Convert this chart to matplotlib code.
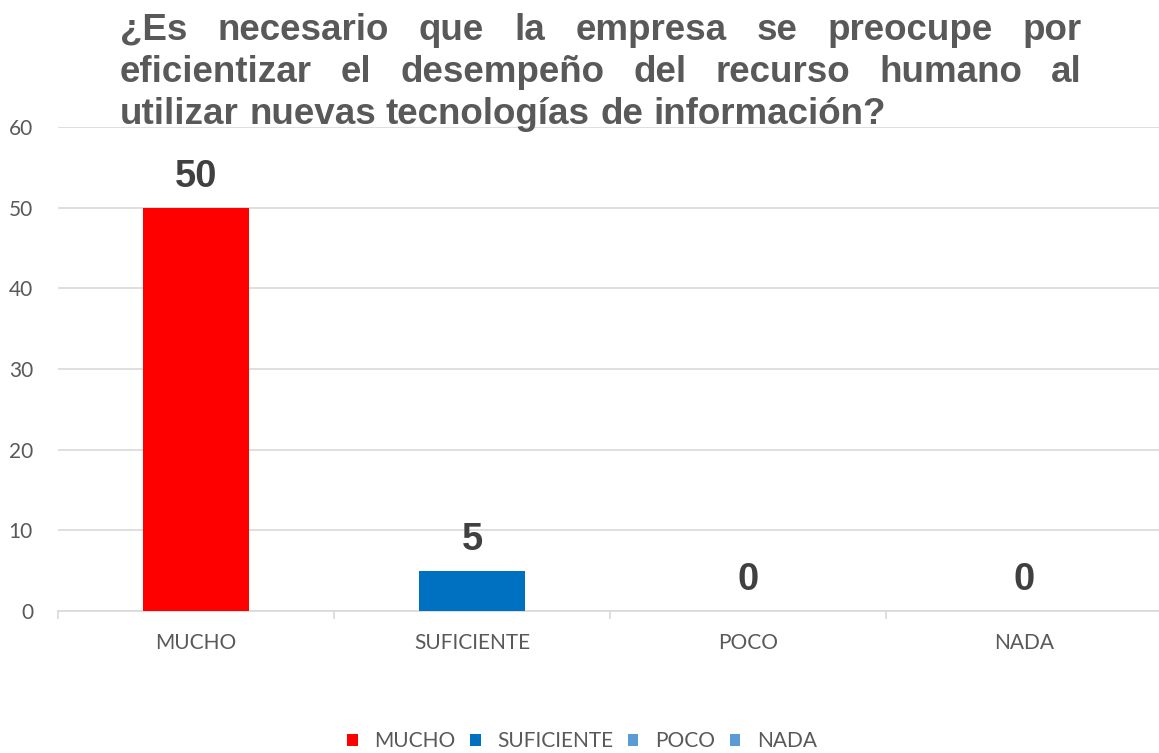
import matplotlib
matplotlib.use("Agg")
import matplotlib.pyplot as plt
import numpy as np
from matplotlib.patches import Patch

categories = ["MUCHO", "SUFICIENTE", "POCO", "NADA"]
values = [50, 5, 0, 0]
colors = ["#FF0000", "#0070C0", "#5B9BD5", "#5B9BD5"]
yticks = [0, 10, 20, 30, 40, 50, 60]
title_lines = ["¿Es necesario que la empresa se preocupe por",
               "eficientizar el desempeño del recurso humano al",
               "utilizar nuevas tecnologías de información?"]

W, H = 1159, 753
fig = plt.figure(figsize=(W / 100, H / 100), dpi=100)
ax = fig.add_axes([58 / W, 1 - 611 / H, (1162 - 58) / W, (611 - 127) / H])

x = np.arange(len(categories))
ax.bar(x, values, width=0.385, color=colors, zorder=3)
ax.set_xlim(-0.5, len(categories) - 0.5)
ax.set_ylim(0, 60)
ax.set_yticks(yticks)
ax.set_yticklabels([str(v) for v in yticks], fontfamily="Lato", fontsize=15, color="#595959")
ax.set_xticks(x)
ax.set_xticklabels(categories, fontfamily="Lato", fontsize=15, color="#595959")
ax.tick_params(axis="y", length=0, pad=18)
ax.tick_params(axis="x", length=0, pad=16)
ax.set_xticks(np.arange(-0.5, len(categories)), minor=True)
ax.tick_params(axis="x", which="minor", length=6, color="#D9D9D9", width=1.2)
ax.grid(axis="y", color="#D9D9D9", linewidth=1.2, zorder=0)
for s in ["left", "right", "top"]:
    ax.spines[s].set_visible(False)
ax.spines["bottom"].set_color("#D9D9D9")
ax.spines["bottom"].set_linewidth(1.2)

for xi, v in zip(x, values):
    ax.annotate(str(v), (xi, v), xytext=(0, 15), textcoords="offset points",
                ha="center", va="baseline", fontsize=27.5, fontweight="bold",
                color="#404040", fontfamily="Liberation Sans")

handles = [Patch(facecolor=c) for c in colors]
leg = fig.legend(handles, categories, loc="center", bbox_to_anchor=(582 / W, 1 - 741 / H),
                 ncol=4, frameon=False, handlelength=0.5, handleheight=0.5,
                 handletextpad=0.8, columnspacing=0.7,
                 prop={"family": "Lato", "size": 15})
for t in leg.get_texts():
    t.set_color("#595959")

renderer = fig.canvas.get_renderer()
left_px, right_px = 120, 1082
baselines = [40, 82, 124]
tkw = dict(fontsize=26.5, fontweight="bold", color="#595959", fontfamily="Liberation Sans",
           va="baseline", ha="left")
for i, line in enumerate(title_lines):
    words = line.split(" ")
    ypos = 1 - baselines[i] / H
    texts = [fig.text(0, ypos, w, **tkw) for w in words]
    widths = [t.get_window_extent(renderer).width for t in texts]
    if i < len(title_lines) - 1:
        gap = (right_px - left_px - sum(widths)) / (len(words) - 1)
    else:
        sp = fig.text(0, 0, "a a", **tkw)
        sa = fig.text(0, 0, "aa", **tkw)
        gap = sp.get_window_extent(renderer).width - sa.get_window_extent(renderer).width
        sp.remove(); sa.remove()
    xpos = left_px
    for t, w in zip(texts, widths):
        t.set_x(xpos / W)
        xpos += w + gap

fig.savefig("out.png", dpi=100)
